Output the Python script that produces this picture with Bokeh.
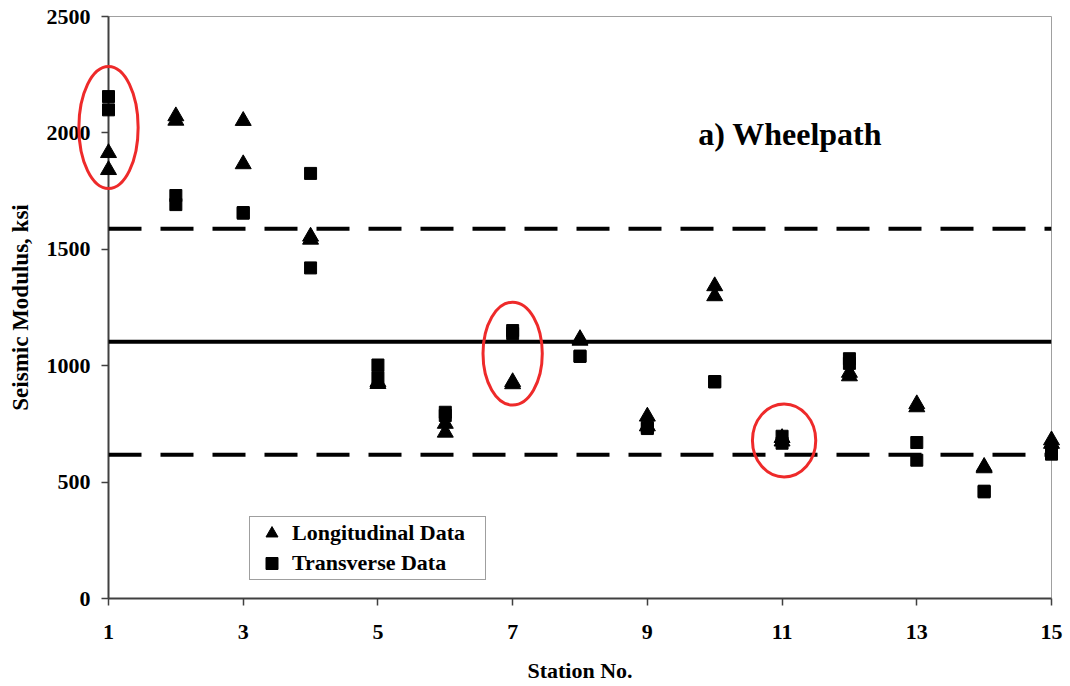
from bokeh.plotting import figure
from bokeh.models import Span, Label, Legend, LegendItem, FixedTicker, Range1d
from bokeh.embed import file_html
from bokeh.resources import INLINE

# ---- data ----
stations_l = [1, 1, 2, 2, 3, 3, 4, 4, 5, 5, 6, 6, 7, 7, 8, 8, 9, 9, 10, 10, 11, 11, 12, 12, 13, 13, 14, 14, 15, 15]
longitudinal = [1914, 1841, 2072, 2053, 2052, 1866, 1555, 1542, 930, 922, 751, 713, 930, 921, 1115, 1108,
                782, 740, 1342, 1299, 675, 690, 970, 955, 835, 822, 566, 560, 680, 665]
stations_t = [1, 1, 2, 2, 3, 3, 4, 4, 5, 5, 6, 6, 7, 7, 8, 8, 9, 9, 10, 10, 11, 11, 12, 12, 13, 13, 14, 14, 15, 15]
transverse = [2156, 2099, 1731, 1692, 1658, 1655, 1826, 1420, 1003, 950, 800, 786, 1151, 1138, 1041, 1040,
              730, 735, 932, 930, 697, 667, 1030, 1010, 670, 594, 461, 458, 620, 625]

mean_value = 1103
upper_value = 1588
lower_value = 617

x_ticks = [1, 3, 5, 7, 9, 11, 13, 15]
y_ticks = [0, 500, 1000, 1500, 2000, 2500]

highlight_station = [1, 7, 11.03]
highlight_center = [2023, 1052, 679]
highlight_span = [524, 442, 314]
highlight_width = [0.88, 0.88, 0.94]

FONT = "Liberation Serif"

p = figure(width=1070, height=686, output_backend="svg", toolbar_location=None,
           x_range=Range1d(1, 15), y_range=Range1d(0, 2500),
           min_border_left=108, min_border_right=19, min_border_top=16, min_border_bottom=88)
p.xgrid.visible = False
p.ygrid.visible = False
p.outline_line_color = "#a0a0a0"
p.outline_line_width = 1
p.background_fill_color = "white"
p.border_fill_color = "white"

for ax in (p.xaxis[0], p.yaxis[0]):
    ax.axis_line_color = "#404040"
    ax.axis_line_width = 2
    ax.major_tick_line_color = "#404040"
    ax.major_tick_line_width = 1.5
    ax.major_tick_in = 0
    ax.major_tick_out = 7
    ax.minor_tick_line_color = None
    ax.major_label_text_font = FONT
    ax.major_label_text_font_style = "bold"
    ax.major_label_text_font_size = "22px"
    ax.major_label_text_color = "black"
    ax.axis_label_text_font = FONT
    ax.axis_label_text_font_style = "bold"
    ax.axis_label_text_color = "black"

p.xaxis.axis_label_text_font_size = "22px"
p.yaxis.axis_label_text_font_size = "23px"
p.xaxis.ticker = FixedTicker(ticks=x_ticks)
p.yaxis.ticker = FixedTicker(ticks=y_ticks)
p.xaxis.axis_label = "Station No."
p.yaxis.axis_label = "Seismic Modulus, ksi"
p.xaxis.major_label_standoff = 19
p.xaxis.axis_label_standoff = 16
p.yaxis.major_label_standoff = 11
p.yaxis.axis_label_standoff = 11

# reference lines
p.add_layout(Span(location=mean_value, dimension="width", line_color="black", line_width=4))
p.add_layout(Span(location=upper_value, dimension="width", line_color="black", line_width=4, line_dash="33 19"))
p.add_layout(Span(location=lower_value, dimension="width", line_color="black", line_width=4, line_dash="33 19"))

r_l = p.scatter(stations_l, longitudinal, marker="triangle", size=16, fill_color="black",
                line_color="black", level="overlay")
r_t = p.scatter(stations_t, transverse, marker="square", size=12, fill_color="black",
                line_color="black", level="overlay")

p.ellipse(x=highlight_station, y=highlight_center, width=highlight_width, height=highlight_span,
          fill_color=None, line_color="#ee2a2a", line_width=3, level="overlay")

p.add_layout(Label(x=11.12, y=1997, text="a) Wheelpath", text_font=FONT, text_font_style="bold",
                   text_font_size="32px", text_align="center", text_baseline="alphabetic",
                   text_color="black"))

legend = Legend(items=[LegendItem(label="Longitudinal Data", renderers=[r_l]),
                       LegendItem(label="Transverse Data", renderers=[r_t])],
                location=(141, 18), padding=1, spacing=-1, glyph_width=41, glyph_height=30,
                label_standoff=0, label_height=25, label_width=192,
                label_text_font=FONT, label_text_font_style="bold", label_text_font_size="22px",
                label_text_color="black",
                border_line_color="#404040", border_line_width=1, background_fill_color="white",
                background_fill_alpha=1.0, margin=0)
p.add_layout(legend)

open("out.html", "w").write(file_html(p, INLINE))
